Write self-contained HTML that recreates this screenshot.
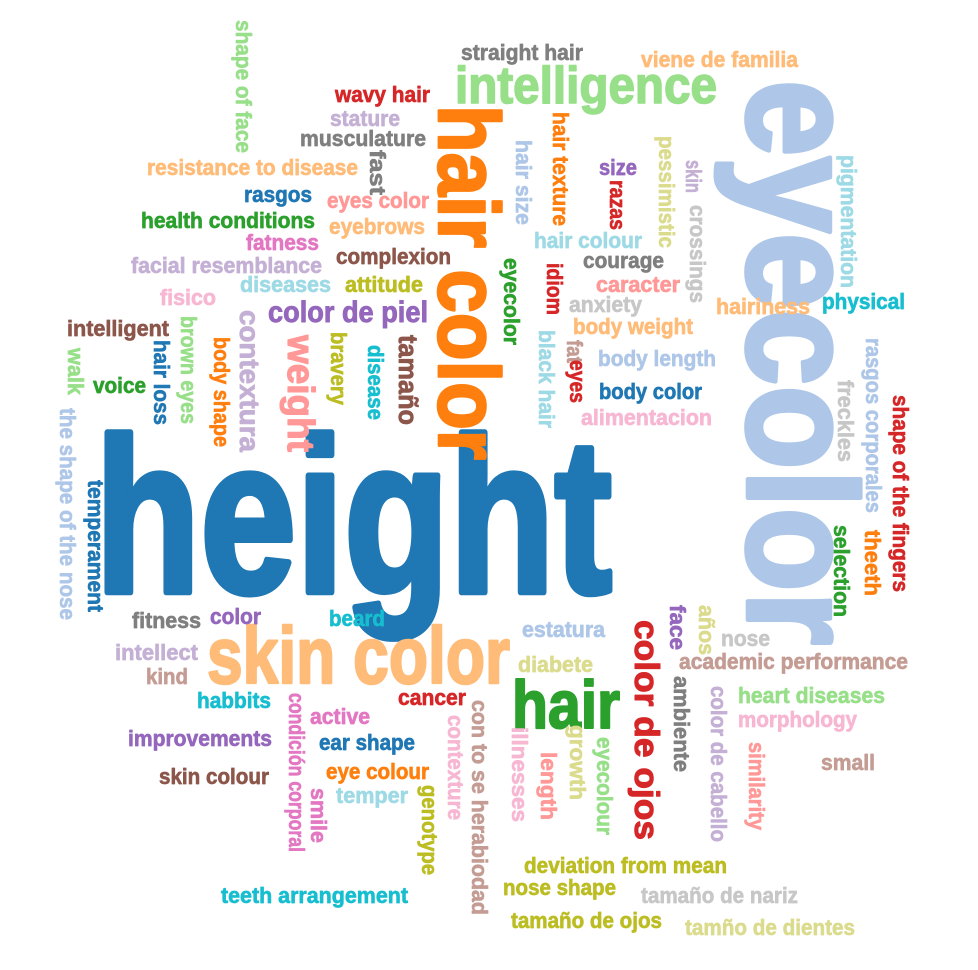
<!DOCTYPE html>
<html>
<head>
<meta charset="utf-8">
<style>
html,body{margin:0;padding:0;background:#fff;}
svg{display:block;}
text{font-family:"Liberation Sans Narrow","Liberation Sans","DejaVu Sans Condensed",sans-serif;font-weight:bold;}
</style>
</head>
<body>
<svg id="cloud" width="978" height="970" viewBox="0 0 978 970" xmlns="http://www.w3.org/2000/svg">
<rect width="978" height="970" fill="#fff"/>
</svg>
<script>
// [text, x, y, size, length, color, vertical]
// horizontal: x = left, y = baseline ; vertical: x = baseline, y = top
const words = [
["height",95,592,220,517,"#1f77b4",0],
["skin color",207,683,80,303,"#ffbb78",0],
["hair",512,728,68,108,"#2ca02c",0],
["intelligence",455,103,52,262,"#98df8a",0],
["eyecolor",748,80,155,565,"#aec7e8",1],
["hair color",439,105,86,355,"#ff7f0e",1],
["color de ojos",635,620,34,220,"#d62728",1],
["color de piel",268,322,30,160,"#9467bd",0],
["straight hair",461,60,22,122,"#7f7f7f",0],
["viene de familia",641,67,22,157,"#ffbb78",0],
["wavy hair",335,102,22,95,"#d62728",0],
["stature",330,126,22,70,"#c5b0d5",0],
["musculature",300,146,22,126,"#7f7f7f",0],
["resistance to disease",147,175,22,211,"#ffbb78",0],
["size",599,175,22,38,"#9467bd",0],
["rasgos",244,202,22,68,"#1f77b4",0],
["eyes color",327,208,22,102,"#ff9896",0],
["health conditions",141,228,22,174,"#2ca02c",0],
["eyebrows",329,234,22,96,"#ffbb78",0],
["hair colour",534,248,22,108,"#9edae5",0],
["fatness",246,250,22,73,"#e377c2",0],
["complexion",336,264,22,115,"#8c564b",0],
["courage",583,268,22,81,"#7f7f7f",0],
["facial resemblance",131,273,22,191,"#c5b0d5",0],
["diseases",240,292,22,91,"#9edae5",0],
["attitude",345,292,22,78,"#bcbd22",0],
["caracter",596,292,22,84,"#ff9896",0],
["fisico",160,305,22,56,"#f7b6d2",0],
["anxiety",569,312,22,73,"#c7c7c7",0],
["hairiness",716,314,22,94,"#ffbb78",0],
["physical",822,309,22,83,"#17becf",0],
["body weight",573,334,22,120,"#ffbb78",0],
["intelligent",67,336,22,102,"#8c564b",0],
["body length",598,366,22,118,"#aec7e8",0],
["voice",93,393,22,53,"#2ca02c",0],
["body color",599,399,22,103,"#1f77b4",0],
["alimentacion",581,425,22,131,"#f7b6d2",0],
["fitness",132,628,22,69,"#7f7f7f",0],
["color",210,624,22,51,"#9467bd",0],
["beard",329,626,22,56,"#17becf",0],
["estatura",522,637,22,83,"#aec7e8",0],
["nose",721,646,22,49,"#c7c7c7",0],
["intellect",115,660,22,83,"#c5b0d5",0],
["academic performance",679,669,22,229,"#c49c94",0],
["diabete",518,672,22,75,"#dbdb8d",0],
["kind",146,684,22,42,"#c49c94",0],
["habbits",197,708,22,74,"#17becf",0],
["cancer",398,705,22,68,"#d62728",0],
["heart diseases",738,703,22,147,"#98df8a",0],
["active",310,724,22,60,"#e377c2",0],
["morphology",738,727,22,119,"#f7b6d2",0],
["improvements",128,746,22,144,"#9467bd",0],
["ear shape",319,750,22,96,"#1f77b4",0],
["small",821,770,22,54,"#c49c94",0],
["skin colour",159,784,22,110,"#8c564b",0],
["eye colour",326,779,22,103,"#ff7f0e",0],
["temper",336,803,22,72,"#9edae5",0],
["deviation from mean",524,873,22,203,"#bcbd22",0],
["nose shape",503,895,22,113,"#bcbd22",0],
["tamaño de nariz",641,903,22,157,"#c7c7c7",0],
["teeth arrangement",221,903,22,187,"#17becf",0],
["tamaño de ojos",511,928,22,151,"#bcbd22",0],
["tamño de dientes",685,935,22,170,"#dbdb8d",0],
["shape of face",236,20,22,133,"#98df8a",1],
["hair texture",553,112,22,114,"#ff7f0e",1],
["fast",370,150,22,45,"#7f7f7f",1],
["hair size",516,140,22,85,"#aec7e8",1],
["pessimistic",659,136,22,112,"#dbdb8d",1],
["skin",686,160,22,33,"#c5b0d5",1],
["crossings",690,205,22,98,"#c7c7c7",1],
["razas",610,180,22,50,"#d62728",1],
["pigmentation",841,155,22,133,"#9edae5",1],
["eyecolor",504,258,22,87,"#2ca02c",1],
["idiom",547,263,22,52,"#d62728",1],
["brown eyes",181,316,22,108,"#98df8a",1],
["hair loss",154,340,22,85,"#1f77b4",1],
["walk",68,348,22,47,"#98df8a",1],
["body shape",214,337,22,110,"#ff7f0e",1],
["contextura",240,310,28,142,"#c5b0d5",1],
["weight",288,335,38,117,"#ff9896",1],
["bravery",331,332,22,73,"#bcbd22",1],
["disease",368,345,22,75,"#17becf",1],
["tamaño",399,335,27,90,"#8c564b",1],
["black hair",539,330,22,98,"#9edae5",1],
["fat",567,340,22,23,"#c49c94",1],
["eyes",570,360,22,43,"#d62728",1],
["rasgos corporales",866,338,22,175,"#aec7e8",1],
["freckles",838,380,22,82,"#c7c7c7",1],
["shape of the fingers",893,395,22,197,"#d62728",1],
["the shape of the nose",60,408,22,212,"#aec7e8",1],
["temperament",88,480,22,132,"#1f77b4",1],
["selection",834,525,22,92,"#2ca02c",1],
["theeth",865,530,22,66,"#ff7f0e",1],
["face",670,605,22,45,"#9467bd",1],
["años",699,605,22,50,"#dbdb8d",1],
["ambiente",674,676,22,96,"#7f7f7f",1],
["color de cabello",711,686,22,156,"#c5b0d5",1],
["similarity",749,742,22,88,"#ff9896",1],
["condición corporal",289,693,22,159,"#e377c2",1],
["smile",311,788,22,55,"#e377c2",1],
["con to se herabiodad",472,700,22,215,"#c49c94",1],
["contexture",448,715,22,105,"#f7b6d2",1],
["illnesses",512,727,22,95,"#f7b6d2",1],
["length",541,752,22,68,"#ff9896",1],
["growth",570,725,22,75,"#dbdb8d",1],
["eyecolour",597,737,22,98,"#98df8a",1],
["genotype",422,785,22,90,"#bcbd22",1]
];
const svg = document.getElementById('cloud');
const NS = 'http://www.w3.org/2000/svg';
for (const w of words) {
  const t = document.createElementNS(NS, 'text');
  t.textContent = w[0];
  t.setAttribute('font-size', w[3]);
  t.setAttribute('fill', w[5]);
  t.setAttribute('stroke', w[5]);
  t.setAttribute('stroke-width', (w[3] * 0.03).toFixed(2));
  t.setAttribute('stroke-linejoin', 'round');
  t.setAttribute('textLength', w[4]);
  t.setAttribute('lengthAdjust', 'spacingAndGlyphs');
  if (w[6]) {
    t.setAttribute('x', 0);
    t.setAttribute('y', 0);
    t.setAttribute('transform', 'translate(' + w[1] + ',' + w[2] + ') rotate(90)');
  } else {
    t.setAttribute('x', w[1]);
    t.setAttribute('y', w[2]);
  }
  
  
  svg.appendChild(t);
}
</script>
</body>
</html>
